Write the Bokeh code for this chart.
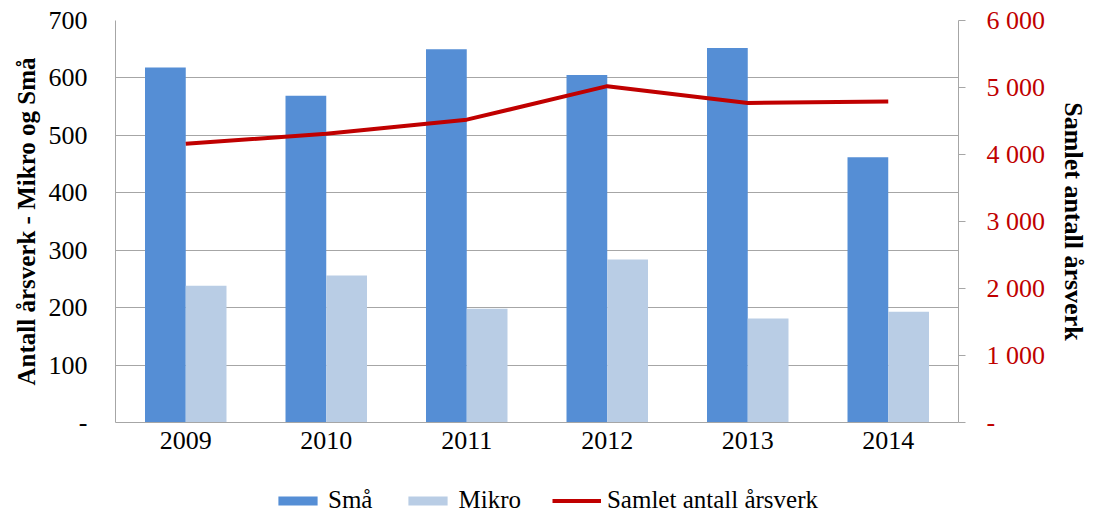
from bokeh.plotting import figure
from bokeh.layouts import column
from bokeh.models import Range1d, LinearAxis, Legend, LegendItem, FixedTicker, ColumnDataSource
from bokeh.transform import dodge
from bokeh.embed import file_html
from bokeh.resources import INLINE

years = ["2009", "2010", "2011", "2012", "2013", "2014"]
sma = [618, 569, 650, 605, 652, 462]
mikro = [238, 256, 198, 284, 181, 193]
samlet = [4160, 4310, 4520, 5020, 4770, 4790]

left_ticks = [0, 100, 200, 300, 400, 500, 600, 700]
left_labels = ["-", "100", "200", "300", "400", "500", "600", "700"]
right_ticks = [0, 1000, 2000, 3000, 4000, 5000, 6000]
right_labels = ["-", "1 000", "2 000", "3 000", "4 000", "5 000", "6 000"]
series_names = ["Små", "Mikro", "Samlet antall årsverk"]

FONT = "Liberation Serif"
RED = "#C00000"
BLUE = "#558ED5"
LIGHT = "#B9CDE5"
GRID = "#A6A6A6"
FS = "26px"

BL, BR = 115, 126
W = BL + 850 + BR

src = ColumnDataSource(dict(years=years, sma=sma, mikro=mikro, samlet=samlet))

p = figure(x_range=years, y_range=Range1d(0, 700), width=W, height=462,
           output_backend="svg", toolbar_location=None,
           min_border_left=BL, min_border_top=20, min_border_right=BR, min_border_bottom=40)
p.outline_line_color = None
p.background_fill_color = "white"
p.border_fill_color = "white"

p.extra_y_ranges = {"right": Range1d(0, 6000)}

p.vbar(x=dodge("years", -0.145, range=p.x_range), top="sma", width=0.29,
       source=src, fill_color=BLUE, line_color=None)
p.vbar(x=dodge("years", 0.145, range=p.x_range), top="mikro", width=0.29,
       source=src, fill_color=LIGHT, line_color=None)
p.line(x="years", y="samlet", source=src, y_range_name="right",
       line_color=RED, line_width=4)

# left axis
ly = p.yaxis[0]
ly.ticker = FixedTicker(ticks=left_ticks)
ly.major_label_overrides = {t: l for t, l in zip(left_ticks, left_labels)}
ly.major_tick_out = 0
ly.major_tick_in = 0
ly.minor_tick_out = 0
ly.minor_tick_in = 0
ly.major_label_standoff = 28
ly.axis_line_color = GRID
ly.major_label_text_font = FONT
ly.major_label_text_font_size = FS
ly.major_label_text_color = "black"
ly.axis_label = "Antall årsverk - Mikro og Små"
ly.axis_label_text_font = FONT
ly.axis_label_text_font_size = "25px"
ly.axis_label_text_font_style = "bold"
ly.axis_label_text_color = "black"
ly.axis_label_standoff = 6

# right axis
ry = LinearAxis(y_range_name="right", ticker=FixedTicker(ticks=right_ticks))
ry.major_label_overrides = {t: l for t, l in zip(right_ticks, right_labels)}
ry.major_tick_out = 7
ry.major_tick_in = 0
ry.minor_tick_out = 0
ry.minor_tick_in = 0
ry.major_tick_line_color = GRID
ry.major_label_standoff = 21
ry.axis_line_color = GRID
ry.major_label_text_font = FONT
ry.major_label_text_font_size = FS
ry.major_label_text_color = RED
ry.axis_label = "Samlet antall årsverk"
ry.axis_label_text_font = FONT
ry.axis_label_text_font_size = FS
ry.axis_label_text_font_style = "bold"
ry.axis_label_text_color = "black"
ry.axis_label_standoff = 11
p.add_layout(ry, "right")

# x axis
xa = p.xaxis[0]
xa.major_tick_out = 0
xa.major_tick_in = 0
xa.major_label_standoff = 9
xa.axis_line_color = GRID
xa.major_label_text_font = FONT
xa.major_label_text_font_size = FS
xa.major_label_text_color = "black"

p.xgrid.grid_line_color = None
p.ygrid.grid_line_color = GRID
p.ygrid.ticker = FixedTicker(ticks=left_ticks)

# legend strip (same series, kept far out of view so only the legend shows)
lf = figure(width=W, height=52, x_range=p.x_range, y_range=Range1d(50000, 50001),
            output_backend="svg", toolbar_location=None,
            x_axis_type=None, y_axis_type=None,
            min_border_left=BL, min_border_right=BR, min_border_top=0, min_border_bottom=0)
lf.outline_line_color = None
lf.border_fill_color = "white"
lf.xgrid.visible = False
lf.ygrid.visible = False
lr1 = lf.vbar(x="years", top="sma", width=0.29, source=src, fill_color=BLUE, line_color=None)
lr2 = lf.vbar(x="years", top="mikro", width=0.29, source=src, fill_color=LIGHT, line_color=None)
lr3 = lf.line(x="years", y="samlet", source=src, line_color=RED, line_width=4)

legend = Legend(items=[LegendItem(label=series_names[0], renderers=[lr1]),
                       LegendItem(label=series_names[1], renderers=[lr2]),
                       LegendItem(label=series_names[2], renderers=[lr3])],
                orientation="horizontal", location=(158, 0),
                border_line_color=None, background_fill_alpha=0,
                glyph_width=49, glyph_height=11, label_height=11,
                label_standoff=6, spacing=31, padding=0, margin=0,
                label_text_font=FONT, label_text_font_size="25px",
                label_text_color="black")
lf.add_layout(legend, "center")

open("out.html", "w").write(file_html(column(p, lf, spacing=0), INLINE))
